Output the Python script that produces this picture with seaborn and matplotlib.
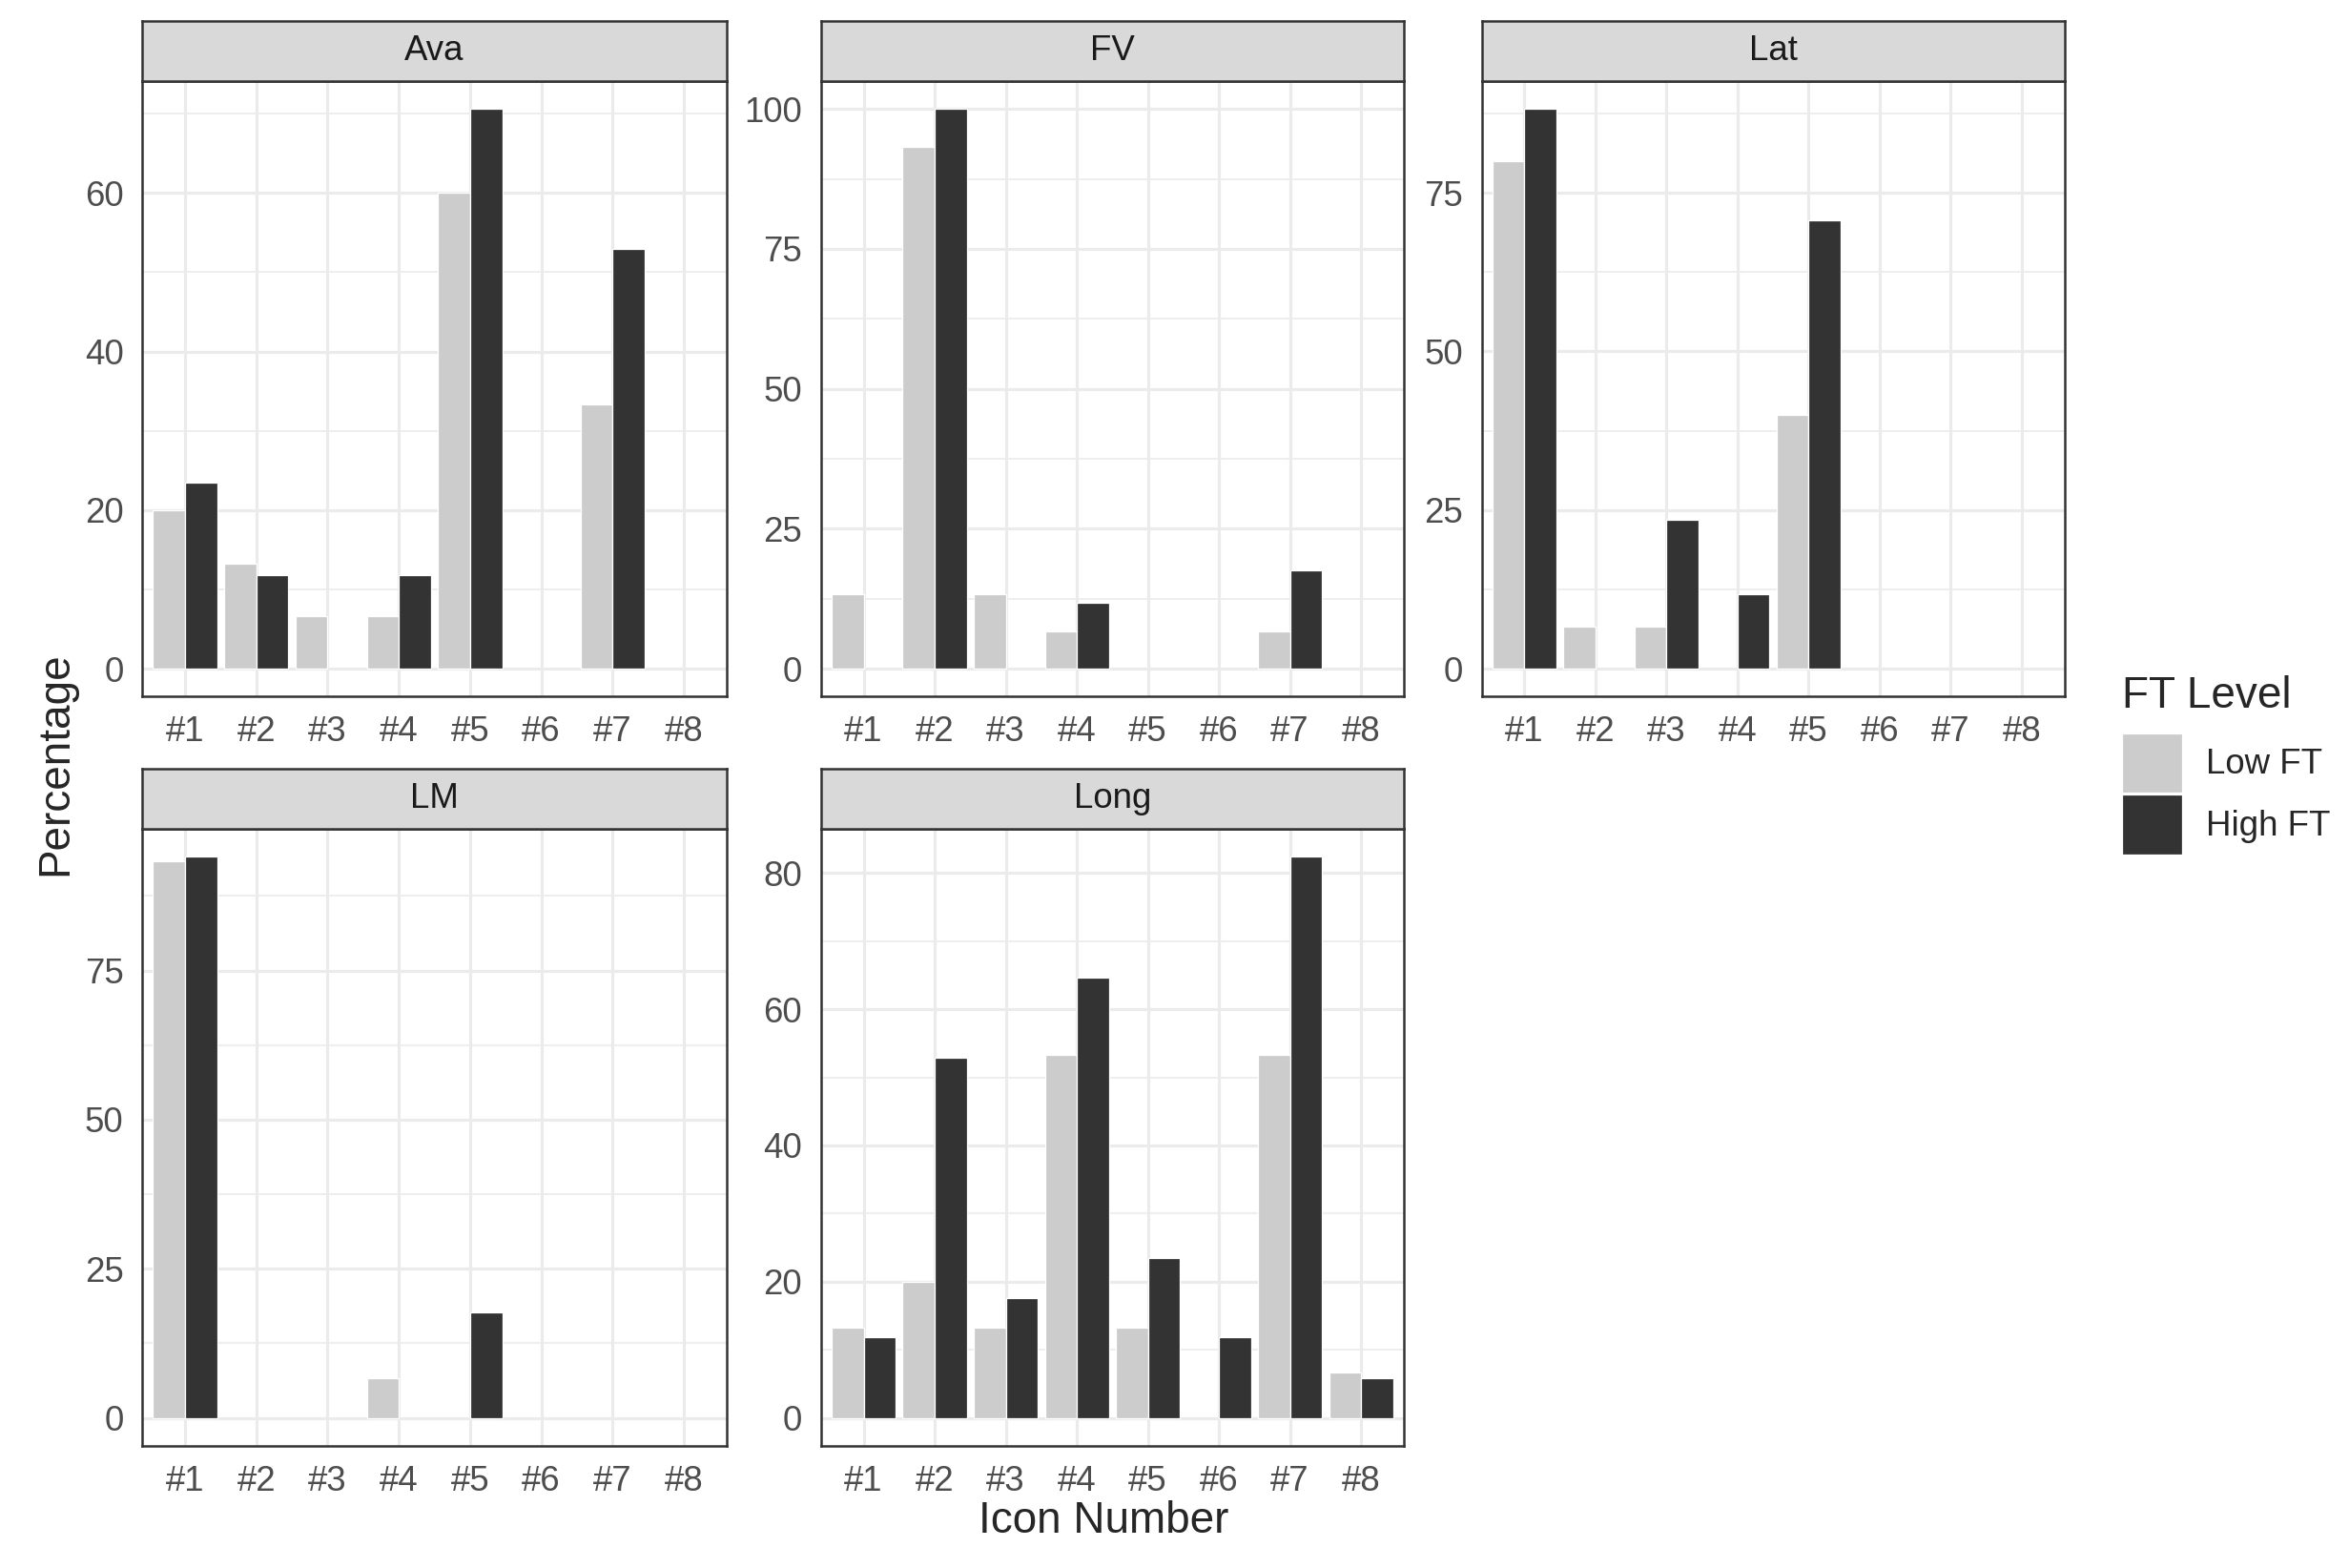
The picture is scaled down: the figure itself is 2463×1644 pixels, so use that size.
import pandas as pd
import matplotlib.pyplot as plt
import seaborn as sns
from matplotlib.patches import Patch

# ==========================================
# Data (percent of participants choosing each icon)

icons = ["#1", "#2", "#3", "#4", "#5", "#6", "#7", "#8"]
levels = ["Low FT", "High FT"]
panels = ["Ava", "FV", "Lat", "LM", "Long"]

ava_low = [20.0, 13.3, 6.67, 6.67, 60.0, 0, 33.3, 0]
ava_high = [23.5, 11.8, 0, 11.8, 70.6, 0, 52.9, 0]
fv_low = [13.3, 93.3, 13.3, 6.67, 0, 0, 6.67, 0]
fv_high = [0, 100.0, 0, 11.8, 0, 0, 17.6, 0]
lat_low = [80.0, 6.67, 6.67, 0, 40.0, 0, 0, 0]
lat_high = [88.2, 0, 23.5, 11.8, 70.6, 0, 0, 0]
lm_low = [93.3, 0, 0, 6.67, 0, 0, 0, 0]
lm_high = [94.1, 0, 0, 0, 17.6, 0, 0, 0]
long_low = [13.3, 20.0, 13.3, 53.3, 13.3, 0, 53.3, 6.67]
long_high = [11.8, 52.9, 17.6, 64.7, 23.5, 11.8, 82.4, 5.88]

yticks = {
    "Ava": [0, 20, 40, 60],
    "FV": [0, 25, 50, 75, 100],
    "Lat": [0, 25, 50, 75],
    "LM": [0, 25, 50, 75],
    "Long": [0, 20, 40, 60, 80],
}

series = {
    "Ava": (ava_low, ava_high),
    "FV": (fv_low, fv_high),
    "Lat": (lat_low, lat_high),
    "LM": (lm_low, lm_high),
    "Long": (long_low, long_high),
}

rows = []
for p in panels:
    lo, hi = series[p]
    for i, ic in enumerate(icons):
        rows.append({"Panel": p, "Icon": ic, "Level": "Low FT", "Pct": lo[i]})
        rows.append({"Panel": p, "Icon": ic, "Level": "High FT", "Pct": hi[i]})
df = pd.DataFrame(rows)

# ==========================================
# Styling (ggplot theme_bw look)

sns.set_style("white")
plt.rcParams["font.family"] = ["Liberation Sans", "DejaVu Sans"]

palette = {"Low FT": "#CCCCCC", "High FT": "#333333"}
border = "#333333"
grid = "#EBEBEB"
tick_col = "#4D4D4D"

fig = plt.figure(figsize=(2463 / 300, 1644 / 300), dpi=300)

W, H = 1568.0, 1046.5
cols_x = [(95, 485), (548, 937), (989, 1378)]
rows_y = [(14, 54, 465), (513, 553, 965)]

for k, p in enumerate(panels):
    r, c = divmod(k, 3)
    x0, x1 = cols_x[c]
    st, sb, pb = rows_y[r]
    ax = fig.add_axes([x0 / W, 1 - pb / H, (x1 - x0) / W, (pb - sb) / H])
    sub = df[df["Panel"] == p]
    sns.barplot(data=sub, x="Icon", y="Pct", hue="Level", order=icons,
                hue_order=levels, palette=palette, width=0.9,
                edgecolor="none", linewidth=0, errorbar=None,
                legend=False, ax=ax, zorder=3)
    # thin white separation between dodged bars, as in the original
    for bar in ax.patches:
        if bar.get_height() > 0:
            bar.set_edgecolor("white")
            bar.set_linewidth(0.3)
    ymax = sub["Pct"].max()
    ax.set_ylim(-0.05 * ymax, ymax * 1.05)
    ax.set_xlim(-0.6, 7.6)
    yt = yticks[p]
    ax.set_yticks(yt)
    minors = [(a + b) / 2 for a, b in zip(yt[:-1], yt[1:])]
    step = yt[1] - yt[0]
    if yt[-1] + step / 2 < ymax * 1.05:
        minors.append(yt[-1] + step / 2)
    ax.set_yticks(minors, minor=True)
    ax.set_xticks(range(len(icons)))
    ax.set_xticklabels(icons)
    ax.grid(True, which="major", color=grid, linewidth=0.75, zorder=0)
    ax.grid(True, which="minor", axis="y", color=grid, linewidth=0.4, zorder=0)
    ax.set_axisbelow(True)
    ax.tick_params(axis="both", which="major", length=2.75, width=0.6,
                   color=border, labelcolor=tick_col, labelsize=8.8, pad=2)
    ax.tick_params(axis="y", which="minor", length=0)
    for s in ax.spines.values():
        s.set_color(border)
        s.set_linewidth(0.6)
    ax.set_xlabel("")
    ax.set_ylabel("")

    # facet strip
    sax = fig.add_axes([x0 / W, 1 - sb / H, (x1 - x0) / W, (sb - st) / H])
    sax.set_facecolor("#D9D9D9")
    sax.set_xticks([])
    sax.set_yticks([])
    for s in sax.spines.values():
        s.set_color(border)
        s.set_linewidth(0.6)
    sax.text(0.5, 0.5, p, ha="center", va="center", fontsize=8.8,
             color="#1A1A1A", transform=sax.transAxes)

fig.text(737 / W, 1 - 1015 / H, "Icon Number", ha="center", va="center",
         fontsize=11)
fig.text(37 / W, 1 - 510 / H, "Percentage", ha="center", va="center",
         rotation=90, fontsize=11)

handles = [Patch(facecolor=palette[l], edgecolor="white", linewidth=0.3, label=l)
           for l in levels]
leg = fig.legend(handles=handles, title="FT Level", loc="upper left",
                 bbox_to_anchor=(1412 / W, 1 - 446 / H), frameon=False,
                 fontsize=8.8, title_fontsize=11, handlelength=1.7,
                 handleheight=2.25, labelspacing=0.05, handletextpad=0.7,
                 borderpad=0.2, borderaxespad=0)
leg._legend_box.align = "left"
leg._legend_box.sep = 4

fig.savefig("out.png", dpi=300)
